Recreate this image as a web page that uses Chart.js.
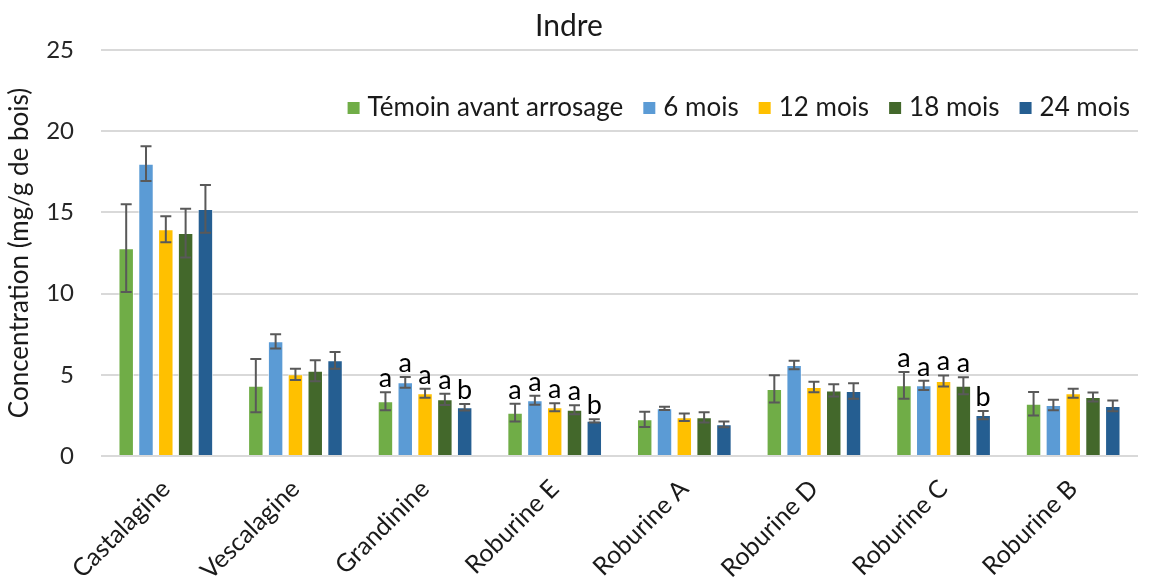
<!DOCTYPE html>
<html>
<head>
<meta charset="utf-8">
<script src="https://cdn.jsdelivr.net/npm/chart.js@4.4.0/dist/chart.umd.min.js"></script>
<style>
  html, body { margin: 0; padding: 0; background: #fff; overflow: hidden; }
</style>
</head>
<body>
<canvas id="myChart" width="1154" height="583"></canvas>
<script>
const categories = ['Castalagine', 'Vescalagine', 'Grandinine', 'Roburine E', 'Roburine A', 'Roburine D', 'Roburine C', 'Roburine B'];
const seriesNames = ['Témoin avant arrosage', '6 mois', '12 mois', '18 mois', '24 mois'];
const colors = ['#70ad47', '#5b9bd5', '#ffc000', '#43682b', '#255e91'];

// mean concentrations (mg/g de bois)
const temoin = [12.8, 4.33, 3.37, 2.67, 2.26, 4.13, 4.35, 3.22];
const mois6 = [18.0, 7.06, 4.54, 3.43, 2.94, 5.6, 4.35, 3.14];
const mois12 = [13.96, 5.03, 3.86, 3.0, 2.38, 4.25, 4.62, 3.86];
const mois18 = [13.73, 5.25, 3.49, 2.85, 2.38, 4.04, 4.33, 3.63];
const mois24 = [15.21, 5.89, 3.0, 2.17, 1.95, 4.0, 2.52, 3.08];

// error bar half-widths
const temoinErr = [2.7, 1.64, 0.55, 0.55, 0.47, 0.84, 0.82, 0.72];
const mois6Err = [1.07, 0.44, 0.33, 0.28, 0.1, 0.26, 0.29, 0.32];
const mois12Err = [0.8, 0.35, 0.28, 0.25, 0.23, 0.32, 0.34, 0.28];
const mois18Err = [1.5, 0.65, 0.35, 0.28, 0.31, 0.38, 0.52, 0.28];
const mois24Err = [1.47, 0.52, 0.2, 0.1, 0.18, 0.48, 0.25, 0.33];

// significance letters
const temoinLetters = ['', '', 'a', 'a', '', '', 'a', ''];
const mois6Letters = ['', '', 'a', 'a', '', '', 'a', ''];
const mois12Letters = ['', '', 'a', 'a', '', '', 'a', ''];
const mois18Letters = ['', '', 'a', 'a', '', '', 'a', ''];
const mois24Letters = ['', '', 'b', 'b', '', '', 'b', ''];

const yMin = 0, yMax = 25, yStep = 5;

const values = [temoin, mois6, mois12, mois18, mois24];
const errors = [temoinErr, mois6Err, mois12Err, mois18Err, mois24Err];
const letters = [temoinLetters, mois6Letters, mois12Letters, mois18Letters, mois24Letters];

const FONT = 'Lato, "Open Sans", sans-serif';

const errorBars = {
  id: 'errorBars',
  afterDatasetsDraw(chart) {
    const ctx = chart.ctx;
    const y = chart.scales.y;
    ctx.save();
    ctx.strokeStyle = '#595959';
    ctx.lineWidth = 2;
    chart.data.datasets.forEach((ds, i) => {
      chart.getDatasetMeta(i).data.forEach((bar, j) => {
        const v = values[i][j], e = errors[i][j];
        const top = y.getPixelForValue(v + e);
        const bot = y.getPixelForValue(v - e);
        ctx.beginPath();
        ctx.moveTo(bar.x, top); ctx.lineTo(bar.x, bot);
        ctx.moveTo(bar.x - 5.5, top); ctx.lineTo(bar.x + 5.5, top);
        ctx.moveTo(bar.x - 5.5, bot); ctx.lineTo(bar.x + 5.5, bot);
        ctx.stroke();
        if (letters[i][j]) {
          ctx.fillStyle = '#000';
          ctx.font = '27px ' + FONT;
          ctx.textAlign = 'center';
          ctx.textBaseline = 'alphabetic';
          ctx.fillText(letters[i][j], bar.x, top - 5);
        }
      });
    });
    ctx.restore();
  }
};

const innerLegend = {
  id: 'innerLegend',
  afterDraw(chart) {
    const ctx = chart.ctx;
    const area = chart.chartArea;
    ctx.save();
    ctx.font = '26px ' + FONT;
    ctx.textBaseline = 'middle';
    ctx.textAlign = 'left';
    const box = 12, gap = 8, space = 20;
    const widths = seriesNames.map(n => ctx.measureText(n).width);
    let total = widths.reduce((a, w) => a + box + gap + w, 0) + space * (seriesNames.length - 1);
    let x = area.right - 8 - total;
    const yc = area.top + 58;
    seriesNames.forEach((n, i) => {
      ctx.fillStyle = colors[i];
      ctx.fillRect(x, yc - box / 2, box, box);
      x += box + gap;
      ctx.fillStyle = '#1a1a1a';
      ctx.fillText(n, x, yc);
      x += widths[i] + space;
    });
    ctx.restore();
  }
};

const ctx = document.getElementById('myChart');

new Chart(ctx, {
  type: 'bar',
  data: {
    labels: categories,
    datasets: seriesNames.map((name, i) => ({
      label: name,
      data: values[i],
      backgroundColor: colors[i],
      borderColor: 'rgba(255,255,255,0.7)',
      borderWidth: 1,
      categoryPercentage: 0.764,
      barPercentage: 0.78,
    })),
  },
  options: {
    responsive: false,
    animation: false,
    layout: {
      padding: { left: 0, right: 16, top: 0, bottom: 0 },
    },
    scales: {
      x: {
        grid: { display: false },
        border: { display: false },
        ticks: {
          autoSkip: false,
          minRotation: 45,
          maxRotation: 45,
          padding: 10,
          color: '#1a1a1a',
          font: { family: FONT, size: 25 },
        },
        afterFit(scale) { scale.height = 127; },
      },
      y: {
        min: yMin,
        max: yMax,
        border: { display: false },
        grid: { color: '#d9d9d9', lineWidth: 2, drawTicks: false },
        ticks: {
          stepSize: yStep,
          padding: 27,
          color: '#262626',
          font: { family: FONT, size: 24 },
        },
        title: {
          display: true,
          text: 'Concentration (mg/g de bois)',
          color: '#1a1a1a',
          font: { family: FONT, size: 26 },
          padding: { top: 4, bottom: 0 },
        },
        afterFit(scale) { scale.width = 101; },
      },
    },
    plugins: {
      legend: { display: false },
      tooltip: { enabled: false },
      title: {
        display: true,
        text: 'Indre',
        color: '#1a1a1a',
        font: { family: FONT, size: 30, weight: 'normal' },
        padding: { top: 8, bottom: 6 },
      },
    },
  },
  plugins: [errorBars, innerLegend],
});
</script>
</body>
</html>
